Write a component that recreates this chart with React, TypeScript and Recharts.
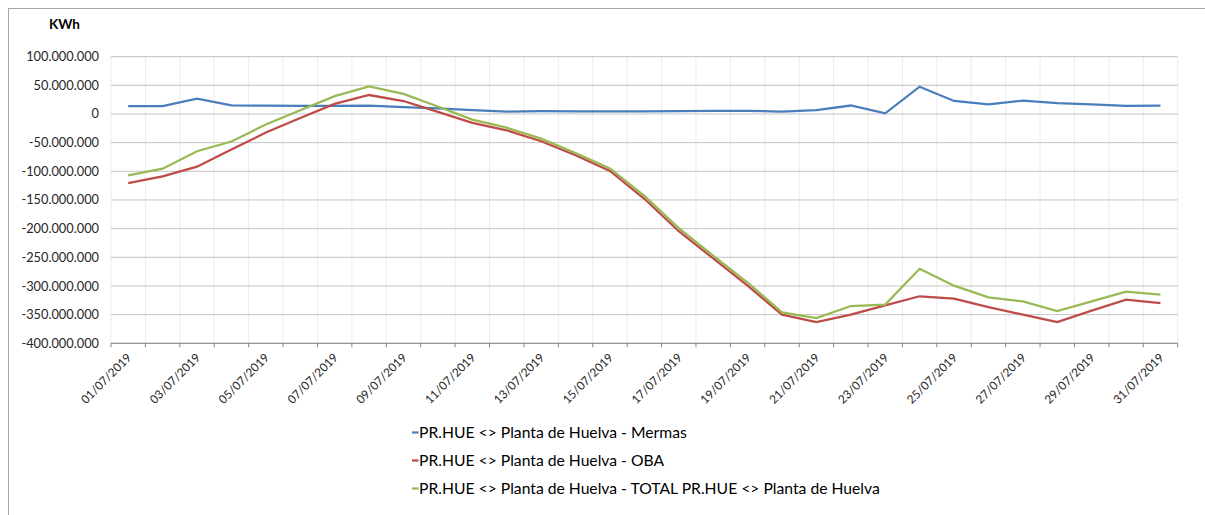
import React from "react";
import { LineChart, Line, XAxis, YAxis, CartesianGrid } from "recharts";

const dates = [
  "01/07/2019", "02/07/2019", "03/07/2019", "04/07/2019", "05/07/2019", "06/07/2019",
  "07/07/2019", "08/07/2019", "09/07/2019", "10/07/2019", "11/07/2019", "12/07/2019",
  "13/07/2019", "14/07/2019", "15/07/2019", "16/07/2019", "17/07/2019", "18/07/2019",
  "19/07/2019", "20/07/2019", "21/07/2019", "22/07/2019", "23/07/2019", "24/07/2019",
  "25/07/2019", "26/07/2019", "27/07/2019", "28/07/2019", "29/07/2019", "30/07/2019",
  "31/07/2019",
];

const mermas = [
  13500000, 13500000, 26500000, 15000000, 14500000, 14000000, 14000000, 14500000,
  12000000, 9500000, 6500000, 4000000, 4700000, 4500000, 4500000, 4500000,
  5000000, 5500000, 5500000, 4000000, 6500000, 14700000, 1000000, 47500000,
  22700000, 16500000, 23400000, 18800000, 16500000, 14000000, 14500000,
];

const oba = [
  -120600000, -109000000, -92000000, -62000000, -32500000, -7000000, 17500000, 33000000,
  22500000, 3500000, -15700000, -28500000, -47700000, -72000000, -99500000, -148000000,
  -204500000, -252000000, -299500000, -350000000, -363000000, -350000000, -334000000, -318000000,
  -322000000, -337000000, -350000000, -363000000, -343000000, -324000000, -330000000,
];

const total = [
  -107000000, -95500000, -65000000, -48000000, -18500000, 6500000, 31000000, 48000000,
  35000000, 13000000, -9800000, -24000000, -43000000, -68000000, -95000000, -143000000,
  -199000000, -247000000, -294000000, -346000000, -356000000, -335000000, -332600000, -270000000,
  -299500000, -320000000, -327000000, -343800000, -327000000, -310000000, -315000000,
];

const yTicks = [
  -400000000, -350000000, -300000000, -250000000, -200000000, -150000000,
  -100000000, -50000000, 0, 50000000, 100000000,
];

const seriesNames = [
  "PR.HUE <> Planta de Huelva - Mermas",
  "PR.HUE <> Planta de Huelva - OBA",
  "PR.HUE <> Planta de Huelva - TOTAL PR.HUE <> Planta de Huelva",
];
const seriesKeys = ["mermas", "oba", "total"];
const seriesColors = ["#4A7EBB", "#BE4B48", "#98B954"];

const data = dates.map((d, i) => ({
  date: d,
  pos: i + 0.5,
  mermas: mermas[i],
  oba: oba[i],
  total: total[i],
}));

const boundaryTicks = dates.map((_, i) => i).concat([dates.length]);
const labelTicks: number[] = [];
dates.forEach((_, i) => {
  labelTicks.push(i);
  labelTicks.push(i + 0.5);
});
labelTicks.push(dates.length);

const fmt = (v: number) => {
  const neg = v < 0;
  const s = Math.abs(Math.round(v)).toString().replace(/\B(?=(\d{3})+(?!\d))/g, ".");
  return (neg ? "-" : "") + s;
};

const FONT = "Lato, 'Open Sans', sans-serif";
const TXT = "#262626";

const XTick = (props: any) => {
  const { x, y, payload } = props;
  const v = payload.value as number;
  if (Number.isInteger(v)) {
    return <line x1={x} y1={y} x2={x} y2={y + 4} stroke="#868686" strokeWidth={1} />;
  }
  const i = Math.floor(v);
  if (i % 2 !== 0) return <g />;
  return (
    <text
      transform={`translate(${x + 4},${y + 15}) rotate(-45)`}
      textAnchor="end"
      fontSize={11.8}
      fill={TXT}
      fontFamily={FONT}
    >
      {dates[i]}
    </text>
  );
};

export default function App() {
  return (
    <div
      style={{
        position: "absolute",
        left: 0,
        top: 0,
        width: 1205,
        height: 515,
        overflow: "hidden",
        background: "#fff",
      }}
    >
      <div
        style={{
          position: "absolute",
          left: 8,
          top: 8,
          width: 1220,
          height: 540,
          border: "1px solid #a6a6a6",
          boxSizing: "border-box",
        }}
      />
      <div style={{ position: "absolute", left: 0, top: 0 }}>
        <LineChart
          width={1205}
          height={515}
          data={data}
          margin={{ top: 56.6, right: 27.3, bottom: 101.7, left: 11 }}
        >
          <CartesianGrid
            xAxisId="grid"
            yAxisId="y"
            horizontal={false}
            vertical={true}
            stroke="#ededed"
            strokeWidth={1}
          />
          <CartesianGrid
            xAxisId="lbl"
            yAxisId="y"
            horizontal={true}
            vertical={false}
            stroke="#c4c4c4"
            strokeWidth={1}
          />
          <XAxis
            xAxisId="grid"
            type="number"
            dataKey="pos"
            domain={[0, dates.length]}
            ticks={boundaryTicks}
            height={0}
            hide
          />
          <XAxis
            xAxisId="lbl"
            type="number"
            dataKey="pos"
            domain={[0, dates.length]}
            ticks={labelTicks}
            interval={0}
            tickLine={false}
            tickSize={0}
            tickMargin={0}
            axisLine={{ stroke: "#868686", strokeWidth: 1 }}
            tick={<XTick />}
            height={70}
          />
          <YAxis
            yAxisId="y"
            type="number"
            domain={[-400000000, 100000000]}
            ticks={yTicks}
            interval={0}
            width={100}
            axisLine={false}
            tickLine={false}
            tickSize={0}
            tickMargin={12}
            tickFormatter={fmt}
            tick={{ fontSize: 12.8, fill: TXT, fontFamily: FONT }}
          />
          {seriesKeys.map((k, i) => (
            <Line
              key={k}
              xAxisId="lbl"
              yAxisId="y"
              type="linear"
              dataKey={k}
              stroke={seriesColors[i]}
              strokeWidth={2.25}
              dot={false}
              activeDot={false}
              isAnimationActive={false}
            />
          ))}
        </LineChart>
      </div>
      <svg
        width={1205}
        height={515}
        style={{ position: "absolute", left: 0, top: 0, pointerEvents: "none" }}
      >
        <text x={49} y={29} fontSize={13.5} fontWeight="bold" fill="#000" fontFamily={FONT}>
          KWh
        </text>
        {seriesNames.map((n, i) => (
          <g key={n}>
            <line
              x1={412}
              x2={418.5}
              y1={432.5 + i * 28}
              y2={432.5 + i * 28}
              stroke={seriesColors[i]}
              strokeWidth={2.25}
            />
            <text x={419} y={438.3 + i * 28} fontSize={15.7} fill="#000" fontFamily={FONT}>
              {n}
            </text>
          </g>
        ))}
      </svg>
    </div>
  );
}
